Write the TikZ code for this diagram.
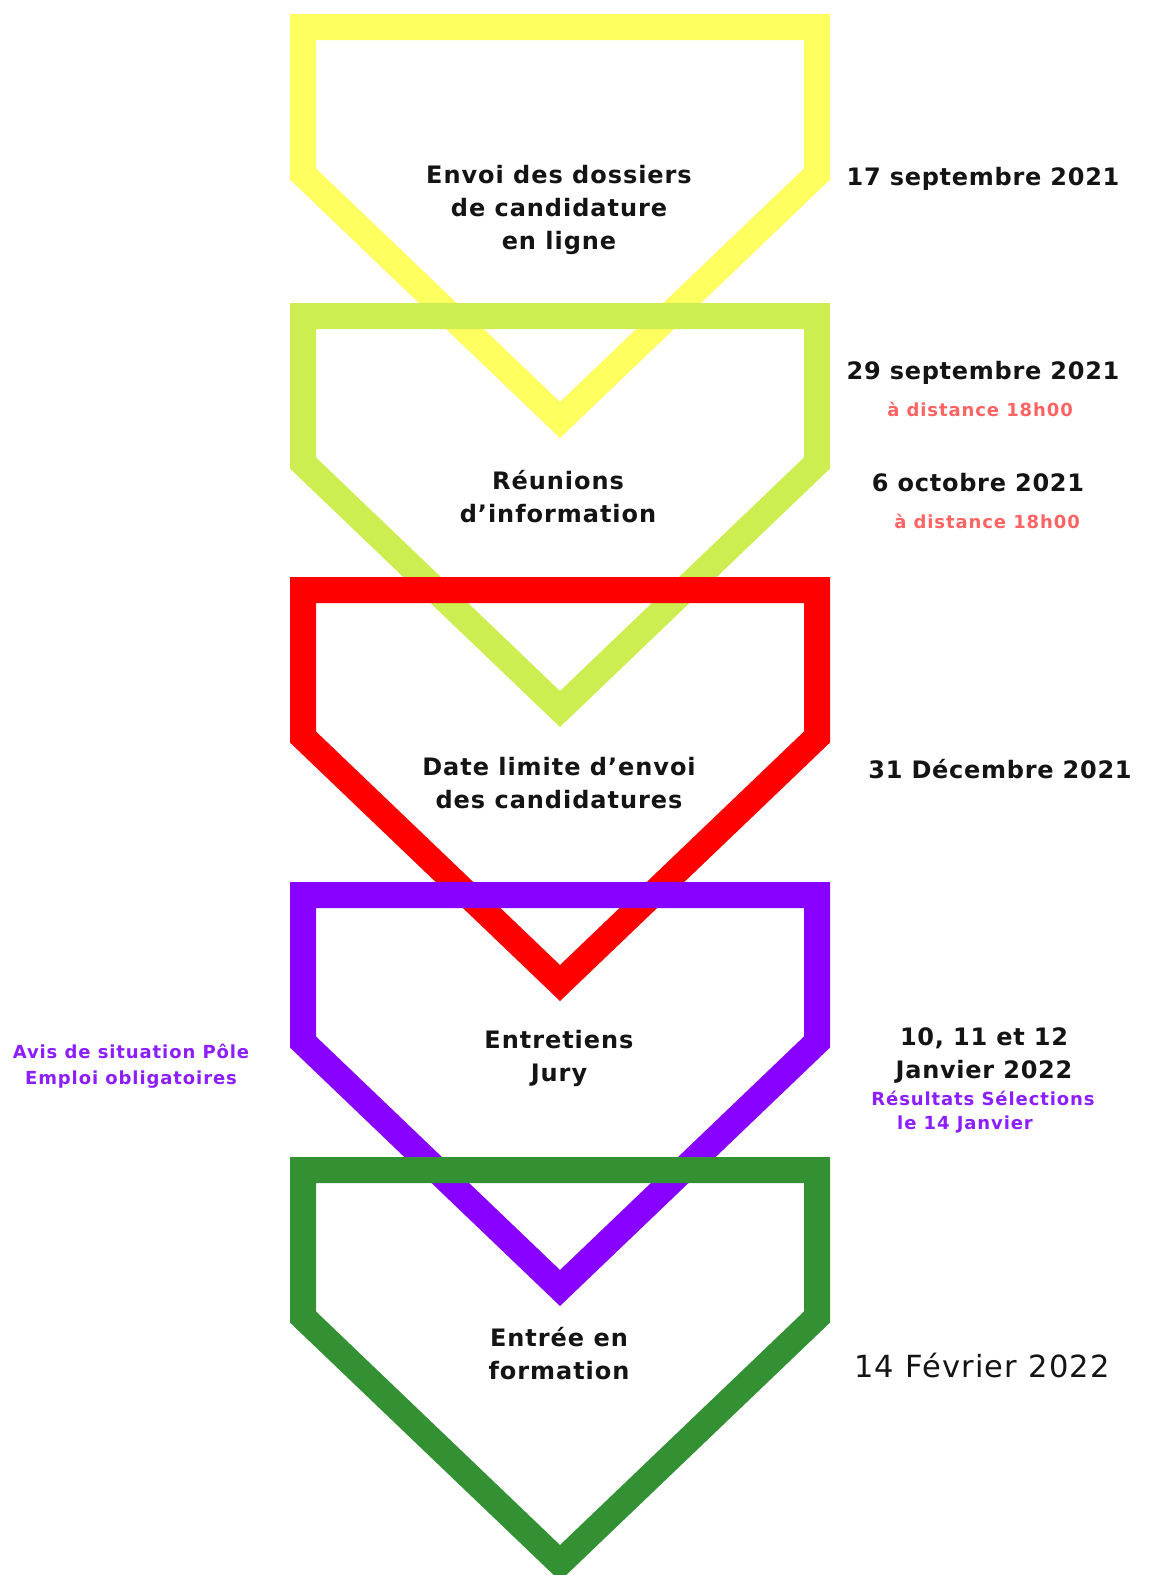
\documentclass[tikz,border=0pt]{standalone}
\usepackage{fontspec}
\setmainfont{DejaVu Sans}
\newfontfamily\wideA[LetterSpace=4]{DejaVu Sans}
\newfontfamily\wideB[LetterSpace=3]{DejaVu Sans}
\newfontfamily\wideC[LetterSpace=5]{DejaVu Sans}
\definecolor{cyellow}{RGB}{255,255,95}
\definecolor{clgreen}{RGB}{205,238,80}
\definecolor{cred}{RGB}{255,0,0}
\definecolor{cpurple}{RGB}{136,0,255}
\definecolor{cdgreen}{RGB}{51,145,51}
\definecolor{cpink}{RGB}{255,100,100}
\definecolor{cptext}{RGB}{140,30,255}
\definecolor{ctext}{RGB}{20,20,20}
\begin{document}
\begin{tikzpicture}[x=1pt,y=-1pt,
  stage/.style={line width=26pt,line join=miter},
  box/.style={font=\wideA\bfseries\fontsize{24}{33}\selectfont,text=ctext,align=center,inner sep=0pt},
  datelbl/.style={font=\wideB\bfseries\fontsize{24}{33}\selectfont,text=ctext,align=center,inner sep=0pt},
  note/.style={font=\wideC\bfseries\fontsize{18}{26}\selectfont,align=center,inner sep=0pt}]
\useasboundingbox (0,0) rectangle (1149,1575);
\fill[white] (0,0) rectangle (1149,1575);
\foreach \t/\c in {14/cyellow,303/clgreen,577/cred,882/cpurple,1157/cdgreen}{
  \draw[stage,draw=\c] (303,\t+13) -- (817,\t+13) -- (817,\t+160) -- (560,\t+406) -- (303,\t+160) -- cycle;
}
% stage texts
\node[box] (s1) at (559,210) {Envoi des dossiers\\de candidature\\en ligne};
\node[box] (s2) at (558,497) {Réunions\\d’information};
\node[box] (s3) at (559,783) {Date limite d’envoi\\des candidatures};
\node[box] (s4) at (559,1058) {Entretiens\\Jury};
\node[box] (s5) at (559,1354) {Entrée en\\formation};
% dates
\node[datelbl] (d1) at (983,179) {17 septembre 2021};
\node[datelbl] (d2) at (983,373) {29 septembre 2021};
\node[note,text=cpink] (n2) at (980,409) {à distance 18h00};
\node[datelbl] (d3) at (978,483) {6 octobre 2021};
\node[note,text=cpink] (n3) at (987,521) {à distance 18h00};
\node[datelbl] (d4) at (1000,769) {31 Décembre 2021};
\node[datelbl] (d5) at (984,1055) {10, 11 et 12\\Janvier 2022};
\node[note,text=cptext] (n5a) at (983,1098) {Résultats Sélections};
\node[note,text=cptext,anchor=west] (n5b) at (897,1124) {le 14 Janvier};
\node[font=\wideA\fontsize{30.5}{33}\selectfont,text=ctext,inner sep=0pt] (d6) at (982,1366) {14 Février 2022};
\node[note,text=cptext] (left) at (131,1066) {Avis de situation Pôle\\Emploi obligatoires};
\end{tikzpicture}
\end{document}
